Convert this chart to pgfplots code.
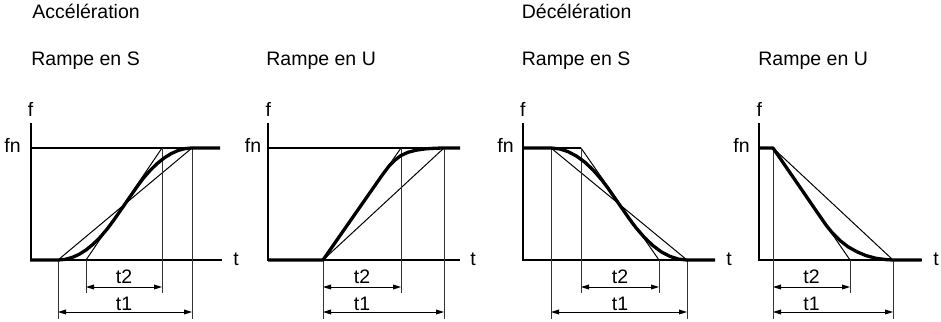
\documentclass[border=0pt]{standalone}
\usepackage{fontspec}
\setmainfont{Liberation Sans}
\usepackage{pgfplots}
\pgfplotsset{compat=1.18}
\usetikzlibrary{arrows.meta}
\newcommand\lab{\fontsize{9.75}{11.7}\selectfont}
\begin{document}
\begin{tikzpicture}[
  lbl/.style={font=\lab,inner sep=0pt,text=black},
  axln/.style={black,line width=1pt},
  fnln/.style={black,line width=0.75pt},
  crv/.style={black,line width=1.65pt,line join=round,line cap=butt},
  thn/.style={black,line width=0.5pt},
  dim/.style={black!80,line width=0.45pt},
  arr/.style={black,line width=0.5pt,{Triangle[length=4pt,width=2.4pt]}-{Triangle[length=4pt,width=2.4pt]}}
]
\begin{axis}[
  name=ax,
  width=470.5pt,height=160.5pt,scale only axis,
  xmin=0,xmax=941,ymin=0,ymax=321,y dir=reverse,
  hide axis,clip=false
]
% ---- titles
\node[lbl,anchor=base west] at (axis cs:32,18.3) {Accélération};
\node[lbl,anchor=base west] at (axis cs:521.5,18.3) {Décélération};
\node[lbl,anchor=base west] at (axis cs:31,65) {Rampe en S};
\node[lbl,anchor=base west] at (axis cs:266,65) {Rampe en U};
\node[lbl,anchor=base west] at (axis cs:521.5,65) {Rampe en S};
\node[lbl,anchor=base west] at (axis cs:758,65) {Rampe en U};

% ---- panel 1 : acceleration, S ramp
\addplot[axln] coordinates {(30.7,123) (30.7,260) (222,260)};
\addplot[fnln] coordinates {(30.7,148) (220,148)};
\addplot[thn] coordinates {(58,260) (192,148)};
\addplot[thn] coordinates {(86,260) (162,148)};
\addplot[dim] coordinates {(58,260) (58,319)};
\addplot[dim] coordinates {(86,260) (86,293)};
\addplot[dim] coordinates {(162,148) (162,293)};
\addplot[dim] coordinates {(192,148) (192,319)};
\addplot[arr] coordinates {(86,287) (162,287)};
\addplot[arr] coordinates {(58,312) (192,312)};
\addplot[crv] coordinates {(30,260) (58,260) (65,259.4) (72,257.5) (79,254.4) (86,250) (93,244.3)
  (100,237.4) (107,229.2) (114,219.8) (125,204) (136,188.2) (143,178.6) (150,170.6)
  (157,163.7) (164,158.1) (171,153.7) (178,150.5) (185,148.6) (192,148) (220,148)};
\node[lbl,anchor=base] at (axis cs:30.7,116) {f};
\node[lbl,anchor=base east] at (axis cs:21,152.5) {fn};
\node[lbl,anchor=base west] at (axis cs:233,265) {t};
\node[lbl,anchor=base] at (axis cs:124,283.5) {t2};
\node[lbl,anchor=base] at (axis cs:124,310) {t1};

% ---- panel 2 : acceleration, U ramp
\addplot[axln] coordinates {(268.3,123) (268.3,260) (460,260)};
\addplot[fnln] coordinates {(268.3,148) (460,148)};
\addplot[thn] coordinates {(323,260) (401,148)};
\addplot[thn] coordinates {(323,260) (444,148)};
\addplot[dim] coordinates {(323,260) (323,319)};
\addplot[dim] coordinates {(401,148) (401,293)};
\addplot[dim] coordinates {(444,148) (444,319)};
\addplot[arr] coordinates {(323,287) (401,287)};
\addplot[arr] coordinates {(323,312) (444,312)};
\addplot[crv] coordinates {(268,260) (323,260) (340,235.6) (360,206.9) (375,185.4) (383,174)
  (389,166) (395,160) (401,155.5) (408,152.3) (416,150.2) (426,148.8) (436,148.2) (444,148) (460,148)};
\node[lbl,anchor=base] at (axis cs:268.3,116) {f};
\node[lbl,anchor=base east] at (axis cs:261.5,152.5) {fn};
\node[lbl,anchor=base west] at (axis cs:470,265) {t};
\node[lbl,anchor=base] at (axis cs:362,283.5) {t2};
\node[lbl,anchor=base] at (axis cs:362,310) {t1};

% ---- panel 3 : deceleration, S ramp
\addplot[axln] coordinates {(522.7,123) (522.7,260) (715,260)};
\addplot[fnln] coordinates {(522.7,148) (581,148)};
\addplot[thn] coordinates {(551,148) (687,260)};
\addplot[thn] coordinates {(581,148) (659,260)};
\addplot[dim] coordinates {(551,148) (551,319)};
\addplot[dim] coordinates {(581,148) (581,293)};
\addplot[dim] coordinates {(659,260) (659,293)};
\addplot[dim] coordinates {(687,260) (687,319)};
\addplot[arr] coordinates {(581,287) (659,287)};
\addplot[arr] coordinates {(551,312) (687,312)};
\addplot[crv] coordinates {(523,148) (551,148) (559.5,148.9) (568,151.6) (576.5,156.1) (585,162.3)
  (593.5,170.4) (602,180.2) (609,189.6) (614,196.8) (619,204) (624,211.2) (629,218.4) (636,227.8)
  (644.5,237.6) (653,245.7) (661.5,252) (670,256.4) (678.5,259.1) (687,260) (715,260)};
\node[lbl,anchor=base] at (axis cs:522.7,116) {f};
\node[lbl,anchor=base east] at (axis cs:514,152.5) {fn};
\node[lbl,anchor=base west] at (axis cs:726,265) {t};
\node[lbl,anchor=base] at (axis cs:620,283.5) {t2};
\node[lbl,anchor=base] at (axis cs:620,310) {t1};

% ---- panel 4 : deceleration, U ramp
\addplot[axln] coordinates {(759.3,123) (759.3,260) (921.7,260)};
\addplot[thn] coordinates {(773,148) (850,260)};
\addplot[thn] coordinates {(773,148) (893,260)};
\addplot[dim] coordinates {(773,148) (773,319)};
\addplot[dim] coordinates {(850,260) (850,293)};
\addplot[dim] coordinates {(893,260) (893,319)};
\addplot[arr] coordinates {(773,287) (850,287)};
\addplot[arr] coordinates {(773,312) (893,312)};
\addplot[crv] coordinates {(759,148) (773,148) (790,172.7) (805,194.5) (818,213.5) (826,225)
  (832,232.5) (840,240.5) (848,246.8) (857,251.8) (866,255.6) (876,258.3) (886,259.6) (893,260) (921.7,260)};
\node[lbl,anchor=base] at (axis cs:759.3,116) {f};
\node[lbl,anchor=base east] at (axis cs:750,152.5) {fn};
\node[lbl,anchor=base west] at (axis cs:933,265) {t};
\node[lbl,anchor=base] at (axis cs:811.5,283.5) {t2};
\node[lbl,anchor=base] at (axis cs:811.5,310) {t1};
\end{axis}
\pgfresetboundingbox
\path (ax.south west) rectangle (ax.north east);
\end{tikzpicture}
\end{document}
